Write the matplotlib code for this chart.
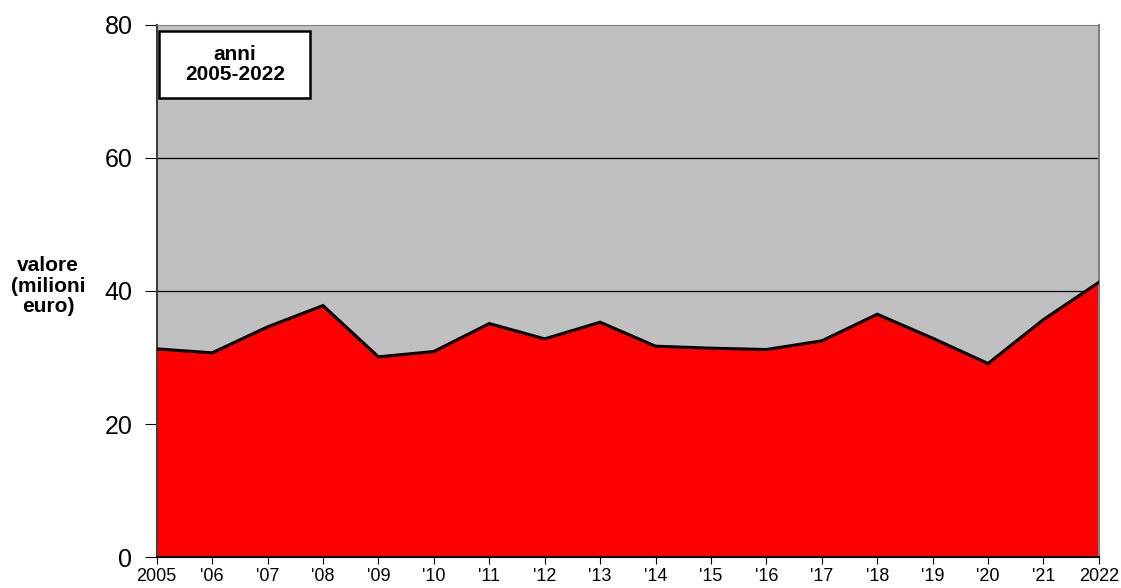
import matplotlib
matplotlib.use("Agg")
import matplotlib.pyplot as plt
from matplotlib.patches import Rectangle

years = list(range(2005, 2023))
labels = ["2005", "'06", "'07", "'08", "'09", "'10", "'11", "'12", "'13",
          "'14", "'15", "'16", "'17", "'18", "'19", "'20", "'21", "2022"]
values = [31.3, 30.7, 34.6, 37.8, 30.1, 30.9, 35.1, 32.8, 35.3,
          31.7, 31.4, 31.2, 32.5, 36.5, 32.9, 29.1, 35.7, 41.3]

plt.rcParams["font.family"] = ["Liberation Sans", "DejaVu Sans"]

fig = plt.figure(figsize=(11.21, 5.88), dpi=100)
ax = fig.add_axes([0.1398, 0.0522, 0.8405, 0.9061])
ax.set_facecolor("#c0c0c0")

ax.fill_between(years, values, 0, facecolor="#ff0000", edgecolor="none", zorder=2)
ax.plot(years, values, color="black", lw=2.2, zorder=3, solid_joinstyle="miter")

ax.set_xlim(years[0], years[-1])
ax.set_ylim(0, 80)
ax.set_yticks([0, 20, 40, 60, 80])
ax.set_xticks(years)
ax.set_xticklabels(labels, fontsize=13)
ax.tick_params(axis="y", labelsize=18, length=9, direction="out", pad=8.5)
ax.tick_params(axis="x", length=5, direction="out", pad=3)
for y in [20, 40, 60]:
    ax.axhline(y, color="black", lw=0.9, zorder=1)

for side in ["top", "right"]:
    ax.spines[side].set_color("#808080")
ax.spines["left"].set_color("#404040")
ax.spines["left"].set_linewidth(1.5)
ax.spines["bottom"].set_color("black")
ax.spines["bottom"].set_linewidth(1.5)
ax.spines["right"].set_linewidth(1.5)

fig.text(0.043, 0.513, "valore\n(milioni\neuro)", ha="center", va="center",
         fontsize=15, fontweight="bold", linespacing=1.1)

ax.add_patch(Rectangle((0.0028, 0.8615), 0.160, 0.1265, transform=ax.transAxes,
                       facecolor="white", edgecolor="black", lw=1.8, zorder=5))
ax.text(0.083, 0.925, "anni\n2005-2022", transform=ax.transAxes, ha="center", va="center",
        fontsize=15, fontweight="bold", linespacing=1.1, multialignment="center", zorder=6)

fig.savefig("out.png", dpi=100)
